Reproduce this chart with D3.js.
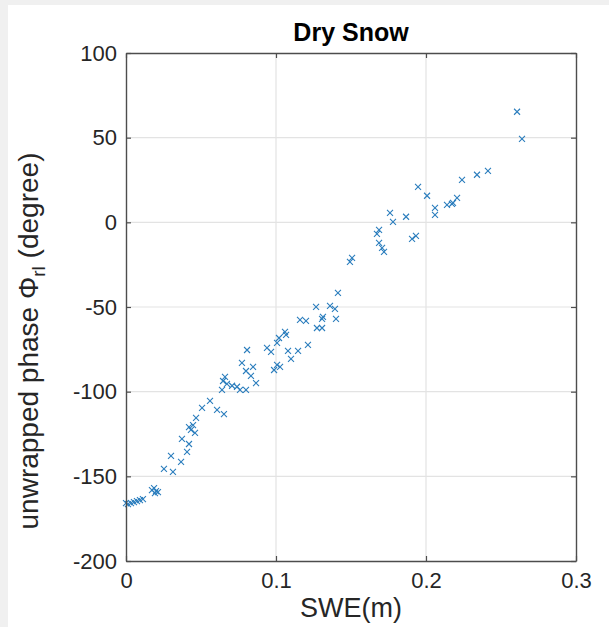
<!DOCTYPE html>
<html>
<head>
<meta charset="utf-8">
<script src="https://cdn.jsdelivr.net/npm/d3@7/dist/d3.min.js"></script>
<style>
  html, body { margin: 0; padding: 0; background: #f0f0f0; }
  svg { display: block; }
</style>
</head>
<body>
<script>
// Snow water equivalent (m) for each acquisition
const swe = [
  0.000, 0.0013, 0.0033, 0.0053, 0.0073, 0.0093, 0.0113,
  0.0173, 0.0187, 0.0200, 0.0213, 0.0193,
  0.0253, 0.0313, 0.0300, 0.0367, 0.0373, 0.0420, 0.0407,
  0.0420, 0.0433, 0.0447, 0.0460, 0.0467, 0.0507, 0.0560, 0.0607, 0.0653,
  0.0640, 0.0647, 0.0660, 0.0673, 0.0707, 0.0740, 0.0760, 0.0800,
  0.0773, 0.0807, 0.0800, 0.0833, 0.0847, 0.0867,
  0.0940, 0.0967, 0.0987, 0.1007, 0.1027, 0.1007, 0.1020, 0.1060, 0.1067,
  0.1080, 0.1147, 0.1100, 0.1213, 0.1160, 0.1200,
  0.1273, 0.1307, 0.1307, 0.1313, 0.1267, 0.1360, 0.1393, 0.1400, 0.1413,
  0.1493, 0.1507,
  0.1673, 0.1687, 0.1687, 0.1707, 0.1720,
  0.1760, 0.1780, 0.1867, 0.1907, 0.1933, 0.1947, 0.2007,
  0.2060, 0.2060, 0.2140, 0.2173, 0.2180, 0.2207,
  0.2240, 0.2340, 0.2413, 0.2607, 0.2640
];
// Unwrapped RL phase (degree) for the same acquisitions
const phase = [
  -165.8, -166.4, -165.8, -165.2, -164.6, -164.0, -163.4,
  -158.1, -156.9, -158.7, -159.3, -159.9,
  -145.6, -147.4, -137.9, -141.5, -127.9, -130.9, -135.6,
  -120.9, -122.6, -119.7, -124.4, -115.5, -109.6, -105.5, -110.8, -113.2,
  -99.0, -93.7, -91.3, -95.4, -96.5, -97.1, -99.0, -99.0,
  -83.0, -75.4, -87.8, -90.7, -85.4, -94.9,
  -74.2, -76.5, -87.2, -84.2, -85.4, -71.2, -68.3, -64.7, -66.5,
  -75.9, -75.9, -80.7, -72.4, -57.6, -58.2,
  -62.4, -62.4, -57.0, -55.8, -49.9, -49.3, -51.1, -57.0, -41.7,
  -23.3, -21.0,
  -6.8, -4.4, -12.1, -15.1, -17.4,
  5.6, 0.3, 3.3, -9.8, -8.0, 21.0, 15.7,
  8.6, 4.4, 10.3, 10.9, 11.5, 14.5,
  25.1, 28.1, 30.4, 65.3, 49.3
];
const xTicks = [0, 0.1, 0.2, 0.3];
const yTicks = [-200, -150, -100, -50, 0, 50, 100];
const xDomain = [0, 0.3];
const yDomain = [-200, 100];

const W = 609, H = 627;
const m = { left: 126, right: 33, top: 53, bottom: 66 };
const iw = W - m.left - m.right, ih = H - m.top - m.bottom;

const svg = d3.select("body").append("svg").attr("width", W).attr("height", H);

// figure panel
svg.append("rect").attr("x", 8).attr("y", 5).attr("width", W - 8).attr("height", H - 5).attr("fill", "#ffffff");

const x = d3.scaleLinear().domain(xDomain).range([0, iw]);
const y = d3.scaleLinear().domain(yDomain).range([ih, 0]);

const g = svg.append("g").attr("transform", `translate(${m.left},${m.top})`);

// grid
g.append("g").selectAll("line").data(xTicks.slice(1, -1)).join("line")
  .attr("x1", d => x(d)).attr("x2", d => x(d)).attr("y1", 0).attr("y2", ih)
  .attr("stroke", "#e3e3e3").attr("stroke-width", 1.2);
g.append("g").selectAll("line").data(yTicks.slice(1, -1)).join("line")
  .attr("y1", d => y(d)).attr("y2", d => y(d)).attr("x1", 0).attr("x2", iw)
  .attr("stroke", "#e3e3e3").attr("stroke-width", 1.2);

// markers
const s = 3;
g.append("g").selectAll("path").data(swe.map((v, i) => [v, phase[i]])).join("path")
  .attr("d", d => {
    const cx = x(d[0]), cy = y(d[1]);
    return `M${cx - s},${cy - s}L${cx + s},${cy + s}M${cx - s},${cy + s}L${cx + s},${cy - s}`;
  })
  .attr("stroke", "#2a7dbd").attr("stroke-width", 1.1).attr("fill", "none");

// axes (box with inward ticks)
const axisColor = "#4d4d4d";
const font = "Liberation Sans, Arial, Helvetica, sans-serif";
const styleAxis = sel => {
  sel.select(".domain").attr("stroke", axisColor).attr("stroke-width", 1.4);
  sel.selectAll(".tick line").attr("stroke", axisColor).attr("stroke-width", 1.2);
  sel.selectAll(".tick text").attr("fill", "#262626").style("font-family", font).style("font-size", "22px");
};
g.append("g").attr("transform", `translate(0,${ih})`)
  .call(d3.axisBottom(x).tickValues(xTicks).tickFormat(d => String(d)).tickSizeInner(-5).tickSizeOuter(0).tickPadding(11))
  .call(styleAxis);
g.append("g")
  .call(d3.axisTop(x).tickValues(xTicks).tickSizeInner(-5).tickSizeOuter(0).tickFormat(""))
  .call(styleAxis);
g.append("g")
  .call(d3.axisLeft(y).tickValues(yTicks).tickFormat(d => String(d)).tickSizeInner(-5).tickSizeOuter(0).tickPadding(9))
  .call(styleAxis);
g.append("g").attr("transform", `translate(${iw},0)`)
  .call(d3.axisRight(y).tickValues(yTicks).tickSizeInner(-5).tickSizeOuter(0).tickFormat(""))
  .call(styleAxis);

// title
svg.append("text").attr("x", m.left + iw / 2).attr("y", 41).attr("text-anchor", "middle")
  .style("font-family", font).style("font-size", "25px").style("font-weight", "bold").attr("fill", "#000")
  .text("Dry Snow");

// x label
svg.append("text").attr("x", m.left + iw / 2).attr("y", 617).attr("text-anchor", "middle")
  .style("font-family", font).style("font-size", "27px").attr("fill", "#262626")
  .text("SWE(m)");

// y label
const yl = svg.append("text").attr("transform", `translate(38,341) rotate(-90)`)
  .attr("text-anchor", "middle")
  .style("font-family", font).style("font-size", "28px").attr("fill", "#262626");
yl.append("tspan").text("unwrapped phase \u03A6");
yl.append("tspan").attr("dy", 7).style("font-size", "19px").text("rl");
yl.append("tspan").attr("dy", -7).text(" (degree)");
</script>
</body>
</html>
